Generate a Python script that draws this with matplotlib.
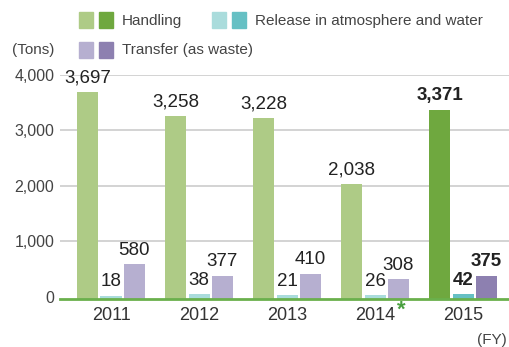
import matplotlib
matplotlib.use("Agg")
import matplotlib.pyplot as plt
import numpy as np
from matplotlib.patches import Rectangle

plt.rcParams['font.family'] = ['Liberation Sans', 'DejaVu Sans']

years = ["2011", "2012", "2013", "2014", "2015"]
handling = [3697, 3258, 3228, 2038, 3371]
release = [18, 38, 21, 26, 42]
transfer = [580, 377, 410, 308, 375]
yticks = [0, 1000, 2000, 3000, 4000]

light = ["#aecb86", "#aadcdc", "#b6afd0"]
dark = ["#6fa83f", "#66c0c4", "#8d80b0"]

fig = plt.figure(figsize=(5.09, 3.47), dpi=100)
ax = fig.add_axes([60/509, 48/347, 449/509, 224/347])

base = -45
x = np.arange(len(years))
w = 0.24
step = 0.265
series = [handling, release, transfer]
for si, vals in enumerate(series):
    for i, v in enumerate(vals):
        last = i == len(years) - 1
        c = dark[si] if last else light[si]
        xc = x[i] + (si - 1) * step
        ax.bar(xc, v - base, bottom=base, width=w, color=c, zorder=3)
        ax.text(xc, v + 100, f"{v:,}", ha="center", va="bottom",
                fontsize=13.5, color="#222222",
                fontweight="bold" if last else "normal", clip_on=False, zorder=4)

ax.set_xlim(-0.58, 4.52)
ax.set_ylim(base, 4000)
ax.set_yticks(yticks)
ax.set_yticklabels([f"{t:,}" for t in yticks], fontsize=11.5, color="#444444")
ax.yaxis.grid(True, color="#cccccc", linewidth=1.2, zorder=0)
ax.get_ygridlines()[0].set_visible(False)
ax.set_xticks(x)
ax.set_xticklabels(years, fontsize=13, color="#333333")
ax.tick_params(axis="both", length=0, pad=4)
ax.tick_params(axis="x", pad=6)
for s in ["top", "right", "left"]:
    ax.spines[s].set_visible(False)
ax.spines["bottom"].set_color("#6ab04c")
ax.spines["bottom"].set_linewidth(2)
ax.spines["bottom"].set_zorder(5)

# asterisk for 2014
ax.text(3.30, -0.05, "*", transform=ax.get_xaxis_transform(),
        fontsize=16, color="#4aa040", fontweight="bold", ha="center", va="center")

# legend
def sq(px, py, color):
    fig.patches.append(Rectangle((px/509, 1 - (py + 16)/347), 14/509, 16/347,
                                 color=color, transform=fig.transFigure, figure=fig))

fs = 11
sq(79, 12, light[0]); sq(99, 12, dark[0])
fig.text(122/509, 1 - 21/347, "Handling", fontsize=fs, color="#444444", va="center")
sq(212, 12, light[1]); sq(232, 12, dark[1])
fig.text(255/509, 1 - 21/347, "Release in atmosphere and water", fontsize=fs, color="#444444", va="center")
sq(79, 42, light[2]); sq(99, 42, dark[2])
fig.text(122/509, 1 - 50/347, "Transfer (as waste)", fontsize=fs, color="#444444", va="center")
fig.text(12/509, 1 - 50/347, "(Tons)", fontsize=fs, color="#444444", va="center")
fig.text(507/509, 1 - 340/347, "(FY)", fontsize=fs, color="#444444", va="center", ha="right")

fig.savefig("out.png", dpi=100)
